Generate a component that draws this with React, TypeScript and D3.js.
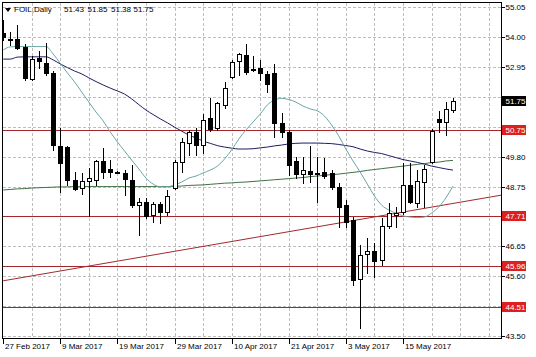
import React from "react";
import * as d3 from "d3";

const W = 536;
const H = 357;

// ---- data ----
const opens = [54.15, 53.95, 53.94, 53.65, 52.53, 53.26, 53.09, 52.73, 50.19, 50.13, 48.98, 48.69, 48.95, 48.98, 49.66, 49.36, 49.28, 49.24, 48.98, 48.10, 48.22, 47.75, 48.13, 47.87, 48.71, 49.60, 50.27, 50.68, 50.21, 51.15, 50.80, 51.62, 52.61, 53.16, 53.37, 52.88, 52.93, 52.70, 52.73, 50.97, 50.68, 49.65, 49.18, 49.31, 49.21, 49.27, 49.22, 48.75, 48.10, 47.58, 45.49, 46.37, 46.49, 46.17, 47.37, 47.75, 47.85, 48.81, 48.18, 48.92, 49.63, 51.12, 51.03, 51.43];
const highs = [54.60, 54.18, 54.43, 53.75, 53.35, 53.50, 53.80, 52.80, 50.80, 50.19, 49.27, 49.22, 49.39, 49.68, 50.12, 49.68, 49.30, 49.33, 49.51, 48.34, 48.36, 48.22, 48.22, 48.63, 49.68, 50.47, 50.74, 50.80, 51.29, 51.85, 51.73, 52.44, 53.20, 53.45, 53.75, 53.35, 53.20, 52.81, 53.05, 51.33, 50.75, 49.80, 49.80, 50.17, 49.80, 49.74, 49.34, 48.87, 48.28, 47.69, 46.70, 46.93, 46.76, 47.64, 48.16, 48.04, 49.57, 49.57, 49.33, 49.51, 50.77, 51.42, 51.73, 51.85];
const lows = [53.90, 53.73, 53.60, 52.50, 52.50, 52.90, 52.67, 50.04, 48.57, 48.81, 48.63, 48.48, 47.72, 48.81, 49.04, 49.10, 49.22, 48.45, 48.05, 47.05, 47.64, 47.52, 47.47, 47.75, 48.66, 49.27, 49.86, 49.86, 49.92, 50.70, 50.74, 51.50, 52.56, 52.67, 52.70, 52.80, 52.50, 52.08, 50.50, 50.50, 49.16, 49.04, 48.87, 48.92, 48.22, 49.04, 48.67, 47.34, 47.34, 45.29, 43.77, 45.72, 45.58, 46.00, 47.30, 47.34, 47.80, 48.16, 48.04, 48.04, 49.59, 50.68, 50.56, 51.38];
const closes = [54.00, 53.93, 53.63, 52.55, 53.23, 53.18, 52.74, 50.21, 49.57, 48.98, 48.66, 48.95, 49.05, 49.65, 49.27, 49.27, 49.25, 49.01, 48.10, 48.22, 47.73, 48.14, 47.85, 48.43, 49.60, 50.33, 50.66, 50.21, 51.09, 50.77, 51.68, 52.23, 53.12, 53.40, 52.79, 52.83, 52.73, 52.34, 50.97, 50.68, 49.51, 49.18, 49.33, 49.18, 49.18, 49.12, 48.75, 48.04, 47.52, 45.47, 46.35, 46.49, 46.15, 47.37, 47.81, 47.83, 48.81, 48.22, 48.96, 49.36, 50.70, 51.02, 51.47, 51.75];

const maFast = [53.55, 53.66, 53.67, 53.67, 53.67, 53.67, 53.67, 53.41, 53.08, 52.74, 52.43, 52.07, 51.72, 51.37, 51.06, 50.67, 50.32, 50.00, 49.68, 49.37, 49.05, 48.84, 48.74, 48.74, 48.81, 48.91, 49.05, 49.12, 49.23, 49.33, 49.47, 49.72, 50.04, 50.42, 50.74, 51.02, 51.30, 51.62, 51.79, 51.85, 51.81, 51.72, 51.58, 51.48, 51.41, 51.23, 50.91, 50.53, 50.07, 49.65, 49.26, 48.84, 48.42, 48.10, 47.93, 47.82, 47.72, 47.68, 47.66, 47.68, 47.82, 48.03, 48.35, 48.77];
const maMid = [53.23, 53.23, 53.30, 53.31, 53.31, 53.31, 53.31, 53.20, 53.06, 52.93, 52.81, 52.71, 52.57, 52.44, 52.32, 52.21, 52.11, 52.00, 51.83, 51.63, 51.44, 51.28, 51.13, 50.99, 50.84, 50.70, 50.56, 50.46, 50.35, 50.27, 50.19, 50.14, 50.10, 50.07, 50.07, 50.08, 50.11, 50.14, 50.18, 50.21, 50.25, 50.27, 50.28, 50.28, 50.28, 50.27, 50.26, 50.23, 50.19, 50.15, 50.07, 50.00, 49.95, 49.91, 49.84, 49.77, 49.70, 49.65, 49.60, 49.54, 49.47, 49.42, 49.37, 49.33];
const maSlow = [48.63, 48.65, 48.67, 48.68, 48.70, 48.71, 48.72, 48.73, 48.74, 48.74, 48.75, 48.75, 48.75, 48.75, 48.75, 48.75, 48.75, 48.75, 48.75, 48.75, 48.75, 48.75, 48.75, 48.75, 48.76, 48.77, 48.79, 48.80, 48.81, 48.83, 48.85, 48.87, 48.88, 48.90, 48.91, 48.93, 48.95, 48.97, 48.99, 49.01, 49.03, 49.05, 49.07, 49.10, 49.12, 49.15, 49.17, 49.19, 49.22, 49.25, 49.28, 49.32, 49.35, 49.38, 49.41, 49.44, 49.47, 49.50, 49.53, 49.56, 49.59, 49.61, 49.65, 49.67];

const dateLabels = ["27 Feb 2017", "9 Mar 2017", "19 Mar 2017", "29 Mar 2017", "10 Apr 2017", "21 Apr 2017", "3 May 2017", "15 May 2017"];
const dateLabelBars = [0, 8, 16, 24, 32, 40, 48, 56];
const priceTicks = [55.05, 54.0, 52.95, 51.9, 50.85, 49.8, 48.75, 47.7, 46.65, 45.6, 44.55, 43.5];
const levels = [50.75, 47.71, 45.96, 44.51];
const lastPrice = 51.75;
const trendBars = [0, 70];
const trendPrices = [45.44, 48.46];
const headerSymbol = "FOIL,Daily";
const headerValues = ["51.43", "51.85", "51.38", "51.75"];

const FONT = "'Liberation Sans', Arial, sans-serif";

export default function App() {
  const left = 2.5, top = 2.5, right = 501.5, bottom = 338.5;
  const x = d3.scaleLinear().domain([0, 56]).range([3.2, 403]);
  const y = d3.scaleLinear().domain([43.5, 55.05]).range([336, 7.3]);
  const px = (i: number) => Math.round(x(i));
  const py = (p: number) => Math.round(y(p)) + 0.5;

  const vGrid = d3.range(4, 69, 4);
  const boxed = [...levels, lastPrice];
  // tick labels hidden behind the level/price boxes are not drawn
  const visibleTickLabels = priceTicks.filter(
    (p) => !boxed.some((b) => Math.abs(y(b) - y(p)) < 9)
  );

  const line = d3
    .line<number>()
    .x((_, i) => x(i))
    .y((d) => y(d))
    .curve(d3.curveMonotoneX);

  const trendLine = d3
    .line<number>()
    .x((_, i) => x(trendBars[i]))
    .y((d) => y(d));

  const headerX = [64, 87.5, 111, 133.5];

  return (
    <svg
      width={W}
      height={H}
      style={{ position: "absolute", left: 0, top: 0, background: "#fff" }}
      fontFamily={FONT}
    >
      <defs>
        <clipPath id="plotClip">
          <rect x={left} y={top} width={right - left} height={bottom - top} />
        </clipPath>
      </defs>
      <rect x={0} y={0} width={W} height={H} fill="#fff" />

      {/* grid */}
      <g stroke="#bdbdbd" strokeDasharray="3,2" shapeRendering="crispEdges">
        {priceTicks.map((p) => (
          <line key={"h" + p} x1={left} x2={right} y1={py(p)} y2={py(p)} />
        ))}
        {vGrid.map((b) => (
          <line key={"v" + b} x1={px(b) + 0.5} x2={px(b) + 0.5} y1={top} y2={bottom} />
        ))}
      </g>

      <g clipPath="url(#plotClip)">
        {/* horizontal levels */}
        {levels.map((p) => (
          <line key={"l" + p} x1={left} x2={right} y1={py(p)} y2={py(p)} stroke="#a3282c" strokeWidth={1} shapeRendering="crispEdges" />
        ))}
        {/* trend line */}
        <path d={trendLine(trendPrices) || ""} fill="none" stroke="#a3282c" strokeWidth={1} />

        {/* moving averages */}
        <path d={line(maSlow) || ""} fill="none" stroke="#3f6e45" strokeWidth={1} />
        <path d={line(maMid) || ""} fill="none" stroke="#1d1d5e" strokeWidth={1} />
        <path d={line(maFast) || ""} fill="none" stroke="#6aa5a5" strokeWidth={1} />

        {/* candles */}
        <g shapeRendering="crispEdges">
          {opens.map((o, i) => {
            const c = closes[i];
            const cx = px(i);
            const yO = Math.round(y(o));
            const yC = Math.round(y(c));
            const yH = Math.round(y(highs[i]));
            const yL = Math.round(y(lows[i]));
            const bull = c > o;
            const bTop = Math.min(yO, yC);
            const bH = Math.max(1, Math.abs(yO - yC));
            return (
              <g key={"c" + i}>
                <line x1={cx + 0.5} x2={cx + 0.5} y1={yH} y2={yL + 1} stroke="#000" />
                {bull ? (
                  <rect x={cx - 1.5} y={bTop + 0.5} width={4} height={bH} fill="#fff" stroke="#000" />
                ) : (
                  <rect x={cx - 2} y={bTop} width={5} height={bH + 1} fill="#000" />
                )}
              </g>
            );
          })}
        </g>
      </g>

      {/* frame */}
      <rect x={left} y={top} width={right - left} height={bottom - top} fill="none" stroke="#000" shapeRendering="crispEdges" />

      {/* price axis */}
      <g fontSize={8} fill="#000">
        {priceTicks.map((p) => (
          <line key={"ptl" + p} x1={right} x2={right + 3} y1={py(p)} y2={py(p)} stroke="#000" shapeRendering="crispEdges" />
        ))}
        {visibleTickLabels.map((p) => (
          <text key={"pt" + p} x={505.5} y={y(p) + 3}>{p.toFixed(2)}</text>
        ))}
      </g>

      {/* level labels */}
      <g fontSize={8}>
        {levels.map((p) => (
          <g key={"lb" + p}>
            <rect x={502} y={Math.round(y(p)) - 5} width={24} height={10} fill="#de1f1f" />
            <text x={505.5} y={y(p) + 3} fill="#fff">{p.toFixed(2)}</text>
          </g>
        ))}
        <rect x={502} y={Math.round(y(lastPrice)) - 5} width={24} height={10} fill="#000" />
        <text x={505.5} y={y(lastPrice) + 3} fill="#fff">{lastPrice.toFixed(2)}</text>
      </g>

      {/* time axis */}
      <g fontSize={8} fill="#000">
        {dateLabelBars.map((b, k) => (
          <g key={"d" + b}>
            <line x1={px(b) + 0.5} x2={px(b) + 0.5} y1={bottom} y2={bottom + 5} stroke="#000" shapeRendering="crispEdges" />
            <text x={px(b) + 2} y={349}>{dateLabels[k]}</text>
          </g>
        ))}
      </g>

      {/* header */}
      <path d="M5,8 L11,8 L8,12 Z" fill="#000" />
      <g fontSize={8} fill="#000">
        <text x={14} y={12}>{headerSymbol}</text>
        {headerValues.map((v, k) => (
          <text key={"hv" + k} x={headerX[k]} y={12}>{v}</text>
        ))}
      </g>
    </svg>
  );
}
